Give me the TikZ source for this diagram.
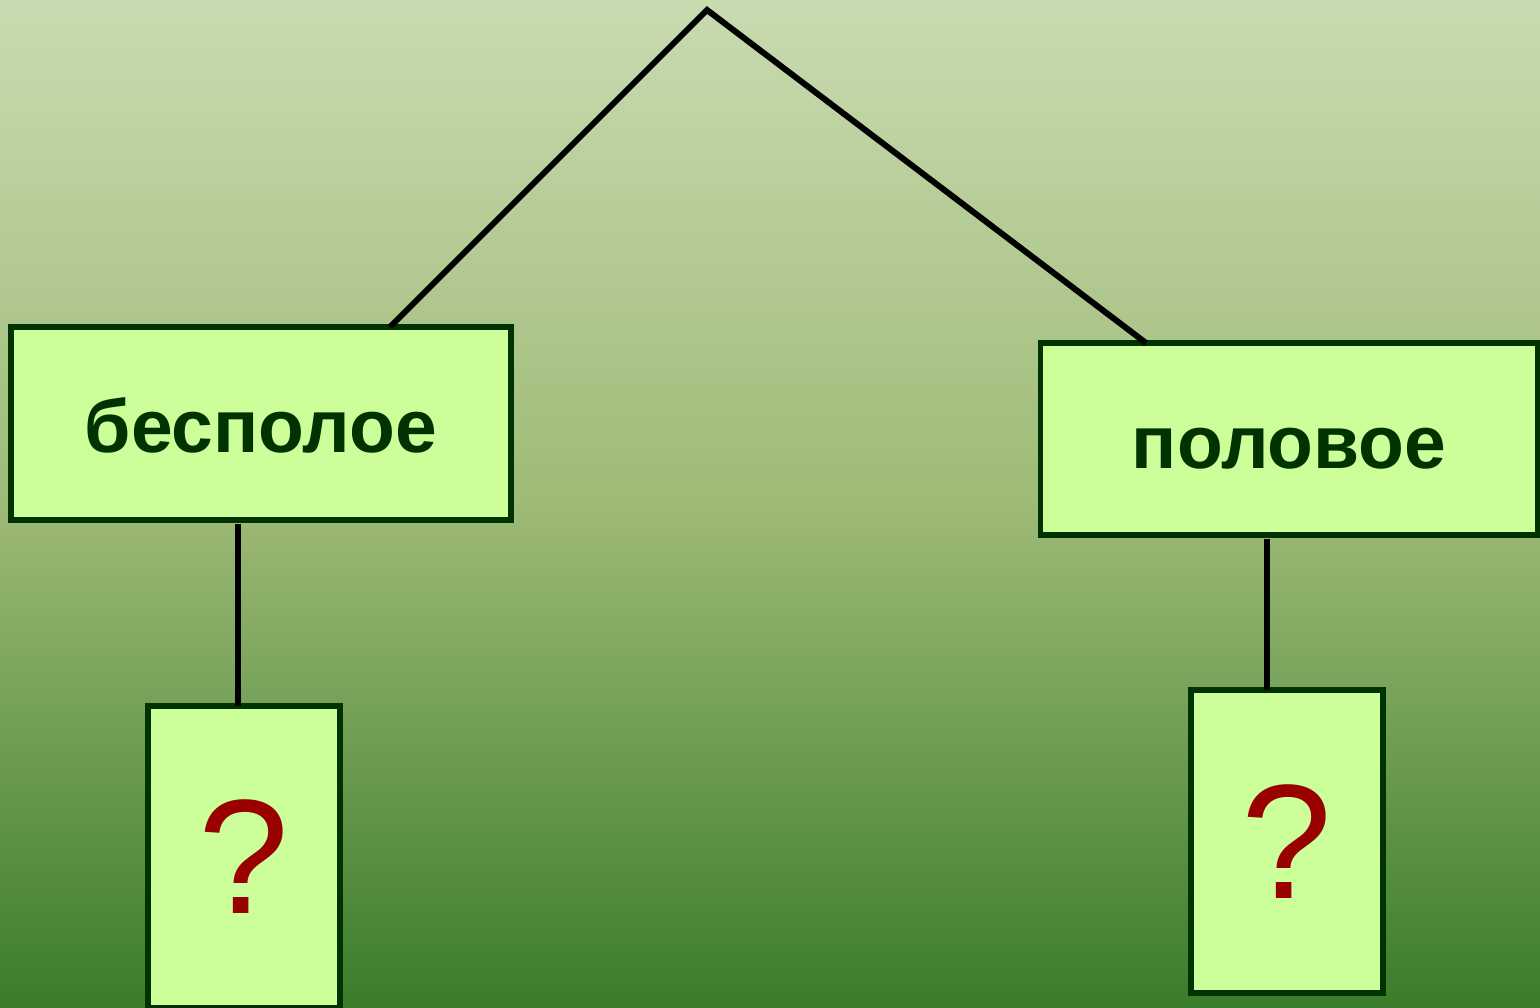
\documentclass[tikz,border=0pt]{standalone}
\usepackage{fontspec}
\setmainfont{Liberation Sans}
\definecolor{bgtop}{RGB}{201,219,177}
\definecolor{bgmid}{RGB}{158,186,118}
\definecolor{bgbot}{RGB}{58,124,44}
\definecolor{boxfill}{RGB}{204,255,153}
\definecolor{boxline}{RGB}{0,51,0}
\definecolor{qred}{RGB}{153,0,0}
\begin{document}
\begin{tikzpicture}[x=1pt,y=-1pt,
  boxstyle/.style={draw=boxline,fill=boxfill,line width=5.5pt,inner sep=0pt,outer sep=0pt,rectangle},
  wordstyle/.style={boxstyle,text=boxline,font=\fontsize{75}{90}\selectfont\bfseries},
  qstyle/.style={boxstyle,text=qred,font=\fontsize{163}{170}\selectfont},
  linkstyle/.style={line width=6pt,draw=black}]
\useasboundingbox (0,0) rectangle (1540,1008);
\shade[top color=bgtop,bottom color=bgbot,middle color=bgmid] (0,0) rectangle (1540,1008);
\coordinate (apex) at (707,10);
\node[wordstyle,minimum width=500pt,minimum height=193pt] (besp) at (261,423.5) {\smash{\raisebox{-28.5pt}{бесполое}}};
\node[wordstyle,minimum width=497pt,minimum height=192pt] (polov) at (1289,439) {\smash{\raisebox{-29pt}{половое}}};
\node[qstyle,minimum width=192pt,minimum height=302pt] (q1) at (244,857) {?};
\node[qstyle,minimum width=192pt,minimum height=303pt] (q2) at (1287,841.5) {?};
\draw[linkstyle] (besp.north -| 390,0) -- (apex) -- (polov.north -| 1146,0);
\draw[linkstyle] ([yshift=-4pt]besp.south -| 238,0) -- (q1.north -| 238,0);
\draw[linkstyle] ([yshift=-4pt]polov.south -| 1267,0) -- (q2.north -| 1267,0);
\end{tikzpicture}
\end{document}
